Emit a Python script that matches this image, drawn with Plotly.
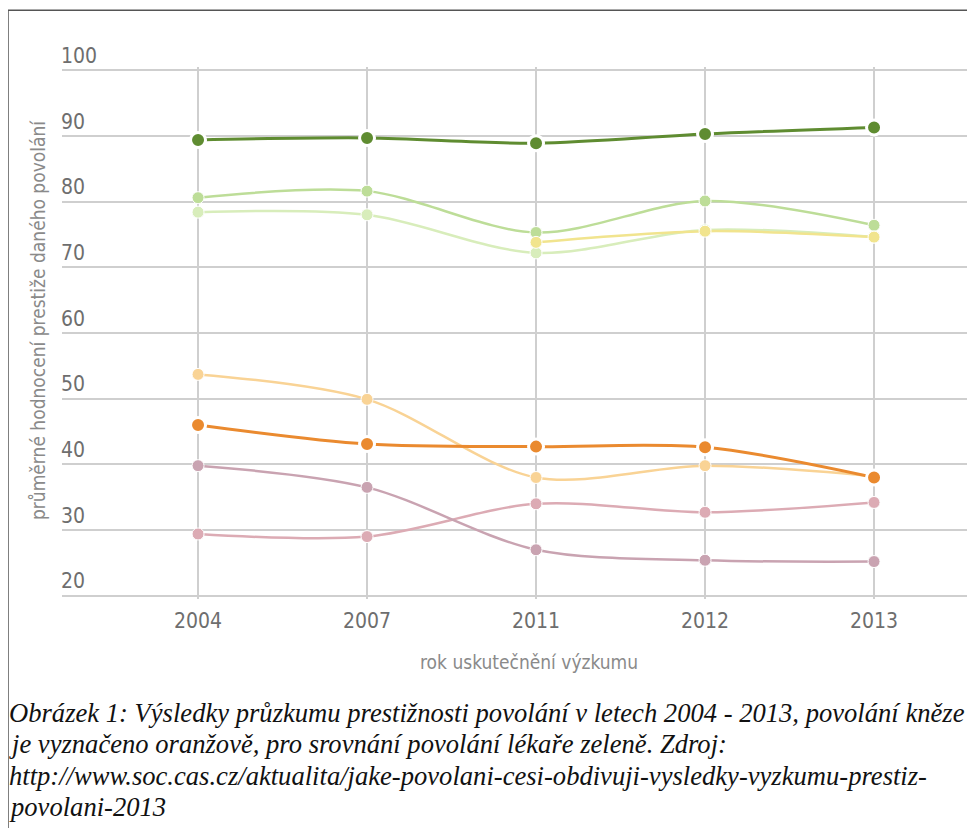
import plotly.graph_objects as go

years = ["2004", "2007", "2011", "2012", "2013"]

doctor = [89.4, 89.7, 88.9, 90.3, 91.3]
green_upper = [80.6, 81.6, 75.3, 80.1, 76.4]
green_lower = [78.4, 78.0, 72.2, 75.7, 74.6]
yellow = [None, None, 73.8, 75.5, 74.6]
orange_light = [53.7, 49.9, 38.0, 39.8, 38.2]
priest = [46.0, 43.1, 42.7, 42.6, 38.0]
mauve_a = [39.8, 36.5, 27.0, 25.4, 25.2]
mauve_b = [29.4, 29.0, 34.0, 32.7, 34.2]

y_ticks = [20, 30, 40, 50, 60, 70, 80, 90, 100]

caption_lines = [
    "Obrázek 1: Výsledky průzkumu prestižnosti povolání v letech 2004 - 2013, povolání kněze",
    "je vyznačeno oranžově, pro srovnání povolání lékaře zeleně. Zdroj:",
    "http://www.soc.cas.cz/aktualita/jake-povolani-cesi-obdivuji-vysledky-vyzkumu-prestiz-",
    "povolani-2013",
]

OFF = 8  # page body margin
W, H = 975 - OFF, 828 - OFF
# plot area in reference (screen) coordinates; 100 -> y 70, 20 -> y 596
PL, PR, PT, PB = 62, 968, 66.7, 599.3
L = PL - OFF
T = PT - OFF
R = W - (PR - OFF)
B = H - (PB - OFF)
PW = W - L - R
PH = H - T - B


def px(x):
    return (x - PL) / PW


def py(y):
    return (PB - y) / PH


narrow = "DejaVu Sans Condensed, DejaVu Sans, sans-serif"

fig = go.Figure()

series = [
    (mauve_b, "#dcabb4", 2.5, 12, 1),
    (mauve_a, "#c9a3b1", 2.5, 12, 1),
    (orange_light, "#f9d395", 2.5, 12, 1),
    (priest, "#ea8a2f", 3, 15, 3),
    (green_upper, "#bddd98", 2.5, 12, 1),
    (green_lower, "#d8edbb", 2.5, 12, 1),
    (yellow, "#f1e48e", 2.5, 12, 1),
    (doctor, "#5f8c31", 3, 15, 3),
]

for vals, color, lw, ms, mlw in series:
    fig.add_trace(go.Scatter(
        x=years, y=vals, mode="lines+markers",
        line=dict(color=color, width=lw, shape="spline", smoothing=0.9),
        marker=dict(color=color, size=ms, line=dict(color="white", width=mlw)),
        connectgaps=False, showlegend=False, hoverinfo="skip",
    ))

fig.update_layout(
    width=W, height=H,
    margin=dict(l=L, r=R, t=T, b=B),
    paper_bgcolor="white", plot_bgcolor="white",
    xaxis=dict(
        type="category", range=[-0.805, 4.556],
        showgrid=True, gridcolor="#cfcfcf", gridwidth=1.5,
        showline=False, zeroline=False, ticks="",
        ticklabelstandoff=7,
        tickfont=dict(family=narrow, size=21, color="#6e6e6e"),
    ),
    yaxis=dict(
        range=[19.5, 100.5], tickvals=y_ticks,
        showgrid=True, gridcolor="#cfcfcf", gridwidth=1.5,
        showline=False, zeroline=False, ticks="",
        ticklabelposition="inside top", ticklabeloverflow="allow",
        ticklabelstandoff=-4,
        tickfont=dict(family=narrow, size=21, color="#6e6e6e"),
    ),
    shapes=[dict(
        type="rect", xref="paper", yref="paper",
        x0=px(8), x1=px(990), y0=py(10), y1=py(850),
        line=dict(color="#555555", width=1.5), fillcolor="rgba(0,0,0,0)",
        layer="above",
    )],
)

annotations = [
    dict(text="rok uskutečnění výzkumu", x=px(529), y=py(662),
         font=dict(family=narrow, size=19, color="#8a8a8a")),
    dict(text="průměrné hodnocení prestiže daného povolání", x=px(38), y=py(320),
         textangle=-90, font=dict(family=narrow, size=19, color="#8a8a8a")),
]
cap_y = [713, 744, 776, 808]
for line, yy in zip(caption_lines, cap_y):
    annotations.append(dict(
        text="<i>" + line + "</i>", x=px(7), y=py(yy), xanchor="left",
        font=dict(family="Liberation Serif, Times New Roman, serif", size=26.6, color="#111111"),
    ))
for a in annotations:
    a.update(xref="paper", yref="paper", showarrow=False)
    a.setdefault("xanchor", "center")
    a.setdefault("yanchor", "middle")
fig.update_layout(annotations=annotations)

fig.write_html("out.html")
